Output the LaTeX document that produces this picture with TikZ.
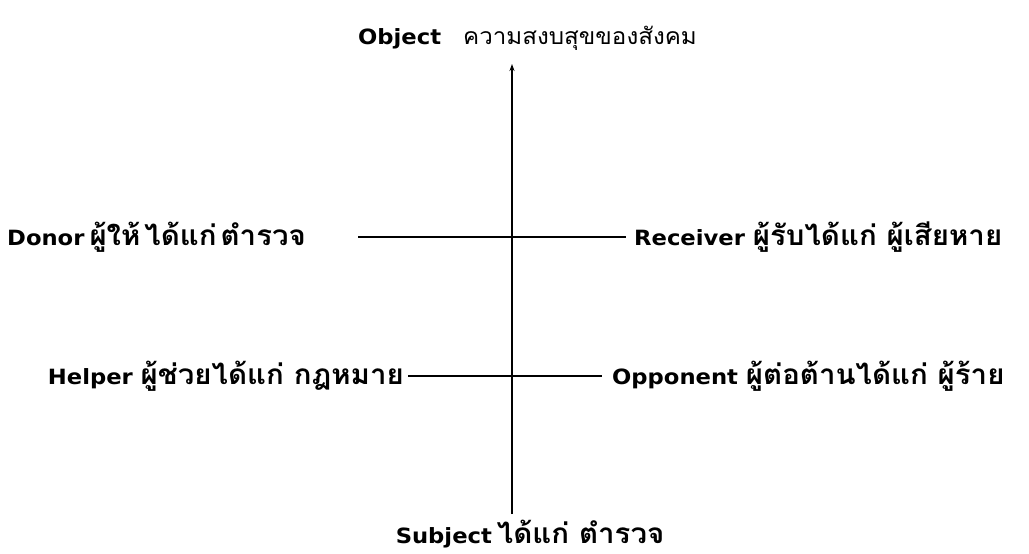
\documentclass[tikz,border=0pt]{standalone}
\usepackage{fontspec}
\setmainfont{DejaVu Sans}[FakeStretch=1.08]
\newfontfamily\thaifont[Script=Thai,FakeStretch=1.05]{Loma}
\usetikzlibrary{arrows.meta}
\begin{document}
\begin{tikzpicture}[x=1pt,y=-1pt,
  lbl/.style={inner sep=0pt,font=\fontsize{21}{24}\selectfont\bfseries},
  axis/.style={line width=1.3pt,black},
]
\newcommand{\thb}[1]{{\thaifont\fontsize{28}{30}\selectfont\bfseries #1}}
\newcommand{\thr}[1]{{\thaifont\fontsize{23}{26}\selectfont\mdseries #1}}
\useasboundingbox (0,0) rectangle (1029,554);
% top
\node[lbl,anchor=base west] (obj) at (358,44) {Object\hspace{22pt}\thr{ความสงบสุขของสังคม}};
\coordinate (top) at (512,64);
% bottom
\node[lbl,anchor=base] (subj) at (530,543) {Subject\hspace{5pt}\thb{ได้แก่\hspace{10pt}ตำรวจ}};
% side labels
\node[lbl,anchor=base east] (donor) at (306,245) {Donor\hspace{5pt}\thb{ผู้ให้\hspace{4pt}ได้แก่\hspace{4pt}ตำรวจ}};
\node[lbl,anchor=base west] (recv) at (634,245) {Receiver \thb{ผู้รับได้แก่ ผู้เสียหาย}};
\node[lbl,anchor=base east] (help) at (404,384) {Helper \thb{ผู้ช่วยได้แก่ กฎหมาย}};
\node[lbl,anchor=base west] (opp) at (612,384) {Opponent \thb{ผู้ต่อต้านได้แก่ ผู้ร้าย}};
% connector ends
\coordinate (dl) at (358,237);
\coordinate (dr) at (626,237);
\coordinate (hl) at (408,376);
\coordinate (hr) at (602,376);
\coordinate (bot) at (512,514);
% lines
\draw[axis,-{Stealth[length=7pt,width=5pt]}] (bot) -- (top);
\draw[axis] (dl) -- (dr);
\draw[axis] (hl) -- (hr);
\end{tikzpicture}
\end{document}
